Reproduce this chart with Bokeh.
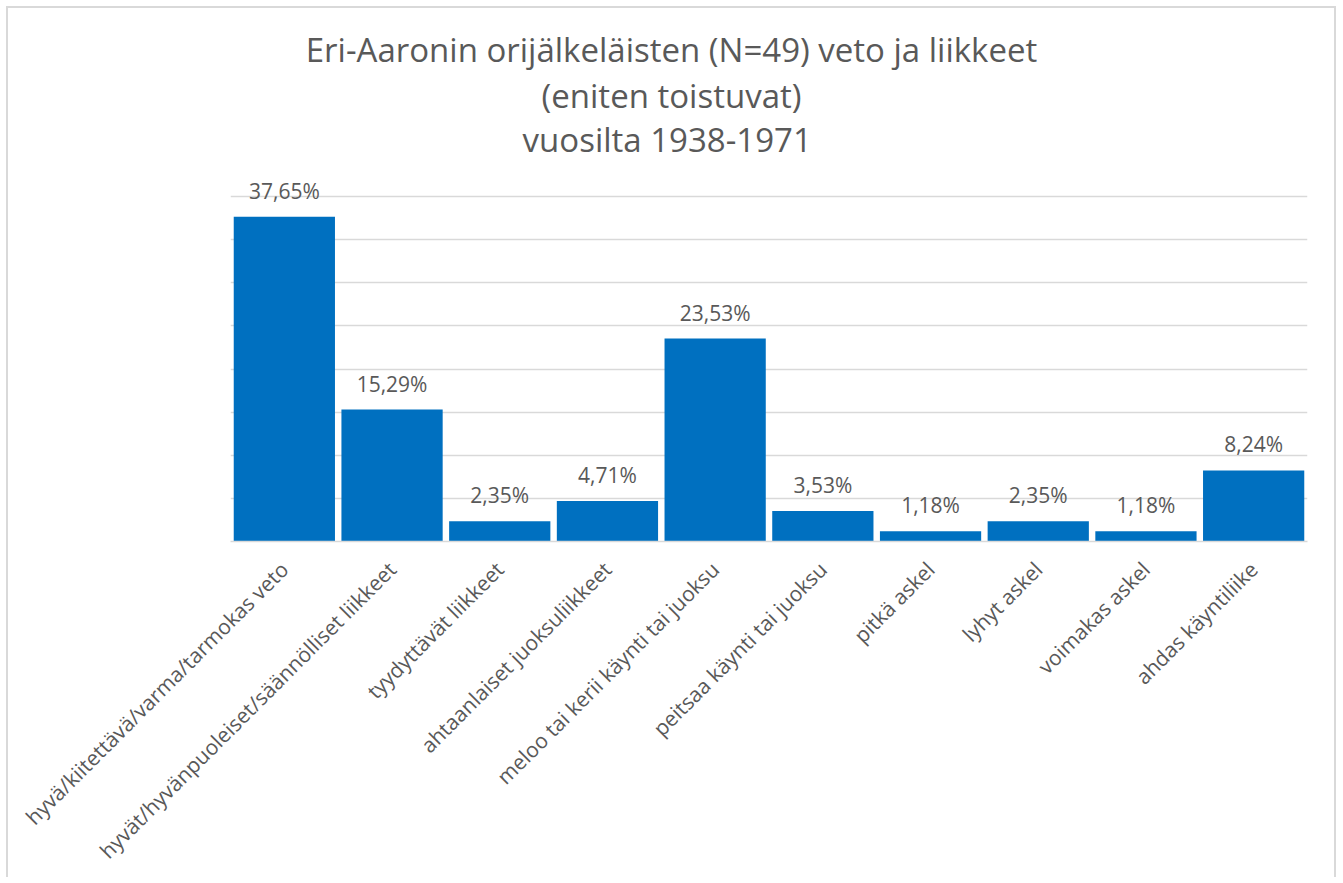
from bokeh.plotting import figure
from bokeh.models import ColumnDataSource, FactorRange, Range1d, FixedTicker, LabelSet, Label
from bokeh.core.properties import value
from bokeh.embed import file_html
from bokeh.resources import INLINE
import math

categories = [
    "hyvä/kiitettävä/varma/tarmokas veto",
    "hyvät/hyvänpuoleiset/säännölliset liikkeet",
    "tyydyttävät liikkeet",
    "ahtaanlaiset juoksuliikkeet",
    "meloo tai kerii käynti tai juoksu",
    "peitsaa käynti tai juoksu",
    "pitkä askel",
    "lyhyt askel",
    "voimakas askel",
    "ahdas käyntiliike",
]
values = [37.65, 15.29, 2.35, 4.71, 23.53, 3.53, 1.18, 2.35, 1.18, 8.24]
value_labels = ["37,65%", "15,29%", "2,35%", "4,71%", "23,53%", "3,53%", "1,18%", "2,35%", "1,18%", "8,24%"]
title_lines = [
    "Eri-Aaronin orijälkeläisten (N=49) veto ja liikkeet",
    "(eniten toistuvat)",
    "vuosilta  1938-1971",
]
grid_ticks = [0, 5, 10, 15, 20, 25, 30, 35, 40]

FONT = "Open Sans"
GREY = "#595959"
BORDER = "#d9d9d9"

src = ColumnDataSource(dict(cat=categories, val=values, lab=value_labels))

# frame spans from the top of the chart (title area) down to the baseline;
# 40 % sits 345 px above the baseline, the rest is room for the title
FRAME_H = 533
Y_TOP = 40 * FRAME_H / 345.0

p = figure(
    x_range=FactorRange(factors=categories, range_padding=0),
    y_range=Range1d(0, Y_TOP),
    frame_width=1077, frame_height=FRAME_H,
    min_border_left=230, min_border_right=29, min_border_top=8, min_border_bottom=0,
    output_backend="svg", toolbar_location=None,
)
g = f"linear-gradient({BORDER},{BORDER})"
p.styles = {
    "background": (f"{g} 6px 6px/2px 2000px no-repeat, "
                   f"{g} 6px 6px/1330px 2px no-repeat, "
                   f"{g} 1334px 6px/2px 2000px no-repeat, #ffffff"),
}
p.outline_line_color = None
p.background_fill_color = "white"
p.border_fill_color = None

p.vbar(x="cat", top="val", width=0.94, source=src, fill_color="#0070C0", line_color=None)

p.yaxis.visible = False
p.ygrid.ticker = FixedTicker(ticks=grid_ticks)
p.ygrid.grid_line_color = BORDER
p.ygrid.grid_line_width = 1.3
p.xgrid.grid_line_color = None

ax = p.xaxis[0]
ax.axis_line_color = BORDER
ax.axis_line_width = 1.3
ax.major_tick_line_color = None
ax.minor_tick_line_color = None
ax.major_tick_out = 0
ax.major_tick_in = 0
ax.major_label_orientation = math.pi / 4
ax.major_label_standoff = 24
ax.major_label_text_font = FONT
ax.major_label_text_font_size = "21px"
ax.major_label_text_color = GREY

labels = LabelSet(x="cat", y="val", text="lab", source=src, y_offset=18,
                  text_align="center", text_baseline="alphabetic",
                  text_font=value(FONT), text_font_size=value("21px"), text_color=GREY)
p.add_layout(labels)

title_y = [492, 446, 402]
for txt, ty in zip(title_lines, title_y):
    p.add_layout(Label(x=441, y=ty, x_units="screen", y_units="screen", text=txt,
                       text_align="center", text_baseline="alphabetic",
                       text_font=FONT, text_font_size="33px", text_color=GREY))

open("out.html", "w").write(file_html(p, INLINE))
